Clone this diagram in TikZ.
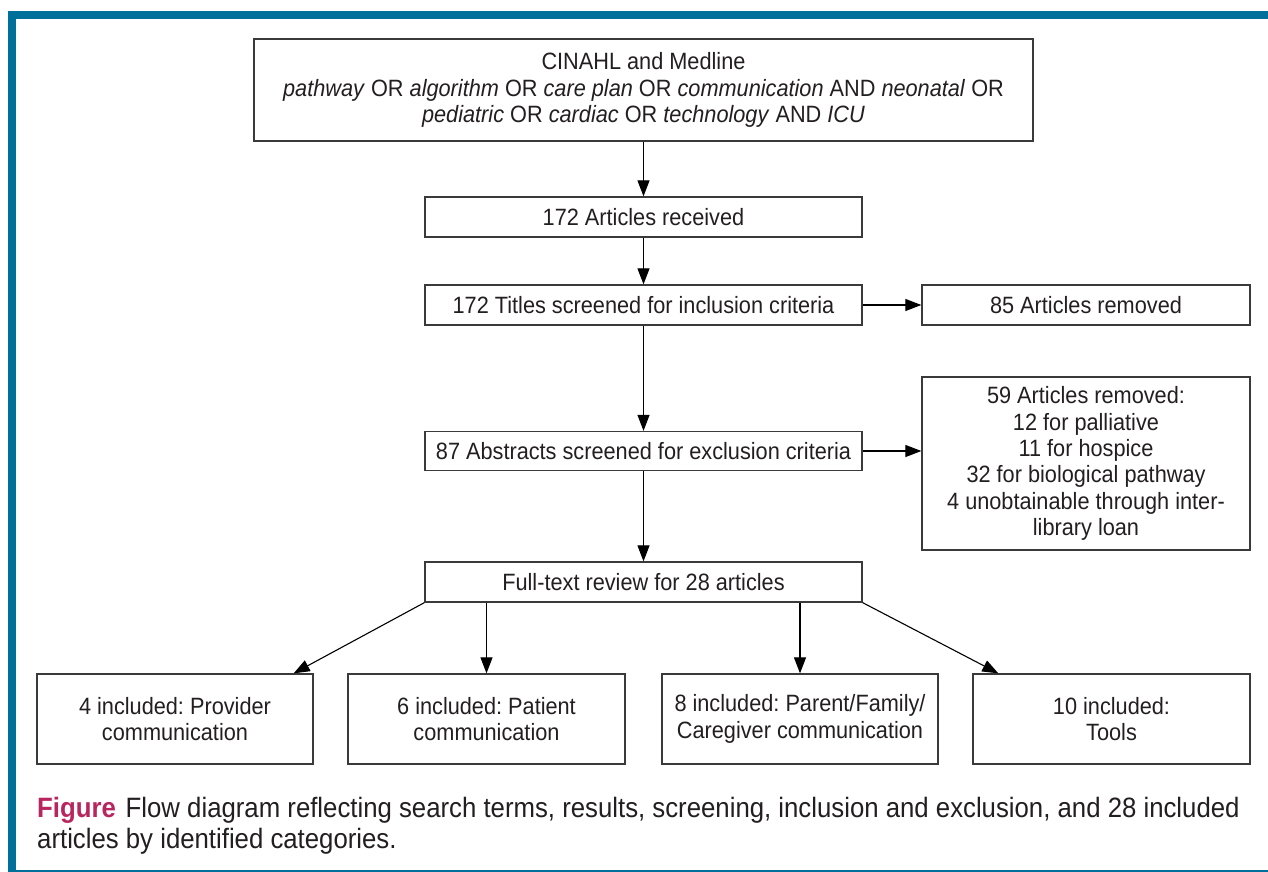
\documentclass[tikz,border=0pt]{standalone}
\usepackage{fontspec}
\setmainfont{Liberation Sans}[FakeStretch=0.92]
\frenchspacing
\usetikzlibrary{arrows.meta,calc}
\definecolor{frameteal}{HTML}{00709A}
\definecolor{figmag}{HTML}{B8255F}
\definecolor{inkgray}{HTML}{231F20}
\definecolor{boxgray}{HTML}{3A3A3A}
\begin{document}
\begin{tikzpicture}[x=1pt,y=-1pt,
  box/.style={draw=boxgray,line width=1.3pt,fill=white,inner sep=0pt,align=center,
    text=inkgray,font=\fontsize{23.6}{26.4}\selectfont},
  flow/.style={draw=black,line width=1.1pt,-{Triangle[length=16pt,width=12pt]}},
  captxt/.style={inner sep=0pt,anchor=base west,text=inkgray,
    font=\fontsize{28}{31}\selectfont}]
\useasboundingbox (0,0) rectangle (1268,872);
\fill[white] (0,0) rectangle (1268,872);
% frame
\fill[frameteal] (8,11) rectangle (1268,19);
\fill[frameteal] (8,11) rectangle (16,872);
\fill[frameteal] (16,869.5) rectangle (1268,872);
% boxes
\node[box,minimum width=779pt,minimum height=102pt] (src) at (643.5,90)
  {CINAHL and Medline\\
   \textit{pathway} OR \textit{algorithm} OR \textit{care plan} OR \textit{communication} AND \textit{neonatal} OR\\
   \textit{pediatric} OR \textit{cardiac} OR \textit{technology} AND \textit{ICU}};
\node[box,minimum width=437pt,minimum height=40pt] (recv) at (643.5,217) {172 Articles received};
\node[box,minimum width=437pt,minimum height=40pt] (titles) at (643.5,305) {172 Titles screened for inclusion criteria};
\node[box,minimum width=328pt,minimum height=40pt] (rem85) at (1086,305) {85 Articles removed};
\node[box,minimum width=437pt,minimum height=39pt] (abs) at (643.5,451) {87 Abstracts screened for exclusion criteria};
\node[box,minimum width=328pt,minimum height=173pt] (rem59) at (1086,463.5)
  {59 Articles removed:\\12 for palliative\\11 for hospice\\32 for biological pathway\\4 unobtainable through inter-\\library loan};
\node[box,minimum width=437pt,minimum height=40pt] (full) at (643.5,582) {Full-text review for 28 articles};
\node[box,minimum width=276pt,minimum height=90pt] (b1) at (175,719) {4 included: Provider\\communication};
\node[box,minimum width=277pt,minimum height=90pt] (b2) at (486.5,719) {6 included: Patient\\communication};
\node[box,minimum width=276pt,minimum height=90pt] (b3) at (800,719) {8 included: Parent/Family/\\Caregiver communication};
\node[box,minimum width=277pt,minimum height=90pt] (b4) at (1111.5,719) {10 included:\\Tools};
% connectors
\draw[flow] (src) -- (recv);
\draw[flow] (recv) -- (titles);
\draw[flow] (titles) -- (abs);
\draw[flow] (abs) -- (full);
\draw[flow] (titles) -- (rem85);
\draw[flow] (abs.east) -- (abs.east -| rem59.west);
\draw[flow] (full.south west) -- ([xshift=-20pt]b1.north east);
\draw[flow] (full.south -| b2.north) -- (b2.north);
\draw[flow] (full.south -| b3.north) -- (b3.north);
\draw[flow] (full.south east) -- ([xshift=26pt]b4.north west);
% caption
\node[captxt] (cap1) at (37,817)
  {\textcolor{figmag}{\textbf{Figure}}\hspace{0.35em}Flow diagram reflecting search terms, results, screening, inclusion and exclusion, and 28 included};
\node[captxt] (cap2) at (37,848) {articles by identified categories.};
\end{tikzpicture}
\end{document}
